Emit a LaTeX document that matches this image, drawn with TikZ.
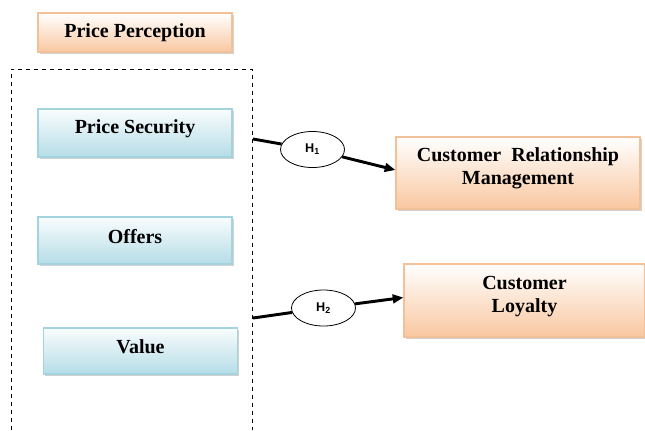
\documentclass[tikz,border=0pt]{standalone}
\usepackage{fontspec}
\setmainfont{Liberation Serif}
\newfontfamily\hypfont{Liberation Sans}
\usepackage{xcolor}
\definecolor{peach}{HTML}{F9C7A0}
\definecolor{peachline}{HTML}{F4C098}
\definecolor{ice}{HTML}{B5DDE7}
\definecolor{iceline}{HTML}{A4D3E0}
\usetikzlibrary{positioning,calc,arrows.meta,shadows,shapes.geometric}

\begin{document}
\begin{tikzpicture}[x=0.75pt,y=-0.75pt,font=\bfseries\fontsize{15}{17}\selectfont,
  boxshadow/.style={drop shadow={shadow xshift=1.4pt,shadow yshift=-1.4pt,fill=black!35,opacity=0.5}},
  warm/.style={draw=peachline,line width=0.9pt,top color=white,bottom color=peach,boxshadow,align=center,inner sep=2pt},
  mid/.style={text height=5pt,text depth=5pt},
  midlow/.style={text height=7pt,text depth=3pt},
  twoline/.style={text height=22pt,text depth=4.75pt},
  cool/.style={draw=iceline,line width=0.9pt,top color=white!92!ice,bottom color=ice,boxshadow,align=center,inner sep=2pt,
    minimum width=145.5pt,mid},
  hyp/.style={ellipse,draw,line width=0.6pt,fill=white,minimum width=48pt,minimum height=27pt,inner sep=0pt,
    font=\hypfont\bfseries\fontsize{9.5}{10}\selectfont},
  link/.style={line width=2.2pt},
  arr/.style={link,-{Triangle[length=8pt,width=6.5pt]}}]
  \useasboundingbox (0,0) rectangle (645,430);

  % construct and its three dimensions
  \node[warm,minimum width=145.5pt,minimum height=29.25pt] (pp) at (135,32.5) {Price Perception};
  \draw[dashed,line width=0.6pt] (11,430) -- (11,69) -- (252.5,69) -- (252.5,430);
  \node[cool,minimum height=36pt] (ps) at (135,133) {Price Security};
  \node[cool,midlow,minimum height=35.25pt] (off) at (135,240.5) {Offers};
  \node[cool,midlow,minimum height=34.5pt] (val) at (140.5,351) {Value};

  % outcomes
  \node[warm,twoline,minimum width=183pt,minimum height=54pt] (crm) at (518,173) {Customer\ \ Relationship\\Management};
  \node[warm,twoline,minimum width=180.75pt,minimum height=54.75pt] (loy) at (524.5,300.5) {Customer\\Loyalty};

  % hypotheses
  \node[hyp] (h1) at (312.5,149.5) {H\textsubscript{1}};
  \node[hyp] (h2) at (323.5,308) {H\textsubscript{2}};
  \coordinate (s1) at (253,139);
  \coordinate (s2) at (253,318);
  \draw[link] (s1) -- (h1);
  \draw[arr] (h1) -- ($(crm.west)+(0,-3)$);
  \draw[link] (s2) -- (h2);
  \draw[arr] (h2) -- ($(loy.west)+(0,-3)$);
\end{tikzpicture}
\end{document}
